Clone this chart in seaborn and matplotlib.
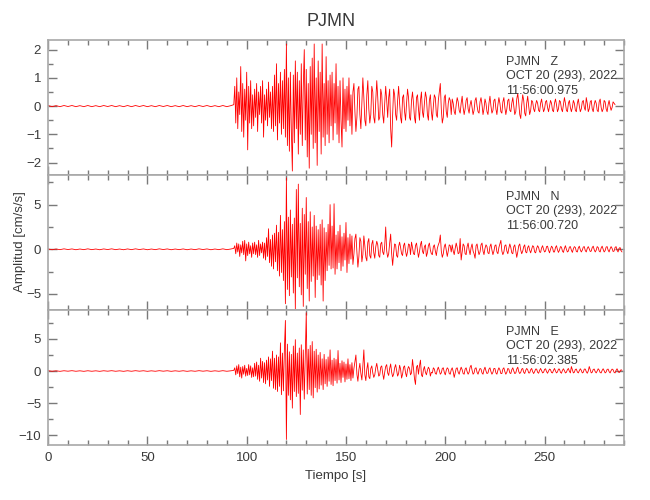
import numpy as np
import pandas as pd
import matplotlib
matplotlib.use("Agg")
import matplotlib.pyplot as plt
import seaborn as sns
from matplotlib.ticker import MultipleLocator

# ---------------- data ----------------
station = "PJMN"
components = ["Z", "N", "E"]
date_text = "OCT 20 (293), 2022"
start_times = ["11:56:00.975", "11:56:00.720", "11:56:02.385"]
x_ticks = [0, 50, 100, 150, 200, 250]

# pre-event noise, one value every 2 s from t = 0
pre_dt = 2.0
z_pre = [0.02, -0.02, 0.015, -0.02, 0.02, -0.015, 0.02, -0.02, 0.015, -0.02, 0.02, -0.02,
         0.015, -0.02, 0.02, -0.015, 0.02, -0.02, 0.015, -0.02, 0.02, -0.02, 0.02, -0.015,
         0.02, -0.02, 0.015, -0.02, 0.02, -0.015, 0.02, -0.02, 0.015, -0.02, 0.02, -0.02,
         0.015, -0.02, 0.02, -0.015, 0.02, -0.02, 0.015, -0.02, 0.02, -0.02, 0.015]
n_pre = [0.04, -0.05, 0.03, -0.04, 0.05, -0.03, 0.04, -0.05, 0.03, -0.04, 0.05, -0.04,
         0.03, -0.05, 0.04, -0.03, 0.05, -0.04, 0.03, -0.05, 0.04, -0.04, 0.05, -0.03,
         0.04, -0.05, 0.03, -0.04, 0.05, -0.03, 0.04, -0.05, 0.03, -0.04, 0.04, -0.05,
         0.03, -0.04, 0.05, -0.03, 0.04, -0.05, 0.03, -0.04, 0.05, -0.04, 0.03]
e_pre = [0.05, -0.04, 0.03, -0.05, 0.04, -0.03, 0.05, -0.04, 0.03, -0.05, 0.04, -0.04,
         0.03, -0.05, 0.04, -0.03, 0.05, -0.04, 0.03, -0.05, 0.04, -0.04, 0.05, -0.03,
         0.04, -0.05, 0.03, -0.04, 0.05, -0.03, 0.04, -0.05, 0.03, -0.04, 0.04, -0.05,
         0.03, -0.04, 0.05, -0.03, 0.04, -0.05, 0.03, -0.04, 0.05, -0.04, 0.03]

# signal, one value every 0.5 s from t = 93.5 s
sig_t0 = 93.5
sig_dt = 0.5
z_sig = [
    0.05, 0.7, -0.6, 1.0, -0.8, 0.5, -0.3, 1.4, -0.9, 0.8, -1.1, 0.6, -0.5, 1.2, -1.55, 0.7, -0.6, 0.9, -0.8, 0.4,
    -0.7, 0.6, -0.4, 0.8, -0.9, 0.5, -0.3, 0.7, -0.6, 0.9, -1.1, 0.4, -0.5, 0.6, -0.7, 0.85, -0.4, 0.5, -0.8, 0.7,
    -0.9, 1.1, -0.7, 1.5, -1.2, 0.8, -0.6, 1.2, -1.0, 0.9, -0.8, 1.3, -1.1, 2.2, -1.4, 1.0, -1.6, 1.2, -0.9, -2.3,
    1.1, -1.3, 1.6, -0.8, 1.2, -1.7, 0.9, -1.0, 1.5, -1.4, 0.7, 2.0, -1.2, 1.3, -1.8, 0.8, -2.2, 1.4, -1.0, 1.7,
    -1.5, 2.2, -1.3, 1.0, -2.1, 1.6, -0.9, 1.2, -1.7, 2.2, -1.1, 0.8, -1.4, 1.75, -1.0, 0.9, -1.3, 1.1, -0.7, 1.2,
    -1.2, 0.8, -0.6, 1.5, -1.0, 0.7, -1.3, 0.9, -0.5, -1.45, 1.0, -0.8, 0.6, -0.9, 0.7, -0.5, 1.0, -0.7, 0.4, -1.0,
    0.5, 0.8, -0.2, -0.9, -0.4, 0.6, 0.7, -0.3, -0.8, 0.1, 1.0, 0.3, -0.5, -0.7, 0.4, 0.9, -0.1, -0.6, -0.3, 0.7,
    0.5, -0.4, -0.6, 0.2, 0.9, 0.3, -0.5, -0.4, 0.6, 0.4, -0.3, -0.6, 0.1, 0.7, 0.2, -0.4, 0.3, 0.6, -0.8, -1.45,
    -0.3, 0.6, 0.4, -0.3, -0.5, 0.2, 0.7, 0.1, -0.4, -0.6, 0.3, 0.4, -0.2, -0.5, 0.1, 0.6, 0.3, -0.4, -0.5, 0.2,
    0.5, 0.1, -0.4, -0.6, 0.3, 0.4, -0.1, -0.5, 0.2, 0.5, -0.2, -0.4, 0.1, 0.5, 0.3, -0.3, -0.5, 0.2, 0.4, -0.2,
    -0.5, 0.0, 0.4, 0.3, -0.3, -0.4, 0.2, 0.5, 0.8, -0.1, -0.6, -0.4, 0.3, 0.4, -0.2, -0.4, 0.1, 0.3, 0.2, -0.3,
    0.25, 0.1, -0.2, -0.3, 0.05, 0.3, 0.15, -0.15, -0.25, 0.1, 0.35, -0.05, -0.3, -0.1, 0.2, 0.3, -0.1, -0.25, 0.05, 0.2,
    -0.05, -0.3, -0.15, 0.2, 0.3, 0.0, -0.2, -0.25, 0.15, 0.3, 0.05, -0.3, -0.1, 0.25, 0.1, -0.2, -0.3, 0.1, 0.35, 0.0,
    -0.25, -0.15, 0.2, 0.25, -0.1, -0.3, 0.05, 0.3, 0.1, -0.2, -0.25, 0.15, 0.3, -0.05, -0.3, -0.1, 0.2, 0.25, -0.15, -0.2,
    0.1, 0.3, 0.0, -0.3, -0.2, 0.25, 0.45, 0.1, -0.3, -0.44, 0.05, 0.4, 0.2, -0.25, -0.35, 0.1, 0.35, 0.0, -0.3, -0.15,
    0.2, 0.15, -0.1, -0.2, 0.05, 0.2, 0.1, -0.15, -0.2, 0.1, 0.25, 0.0, -0.2, -0.1, 0.15, 0.2, -0.05, -0.2, 0.0, 0.2,
    0.1, -0.15, -0.2, 0.1, 0.25, 0.05, -0.2, -0.1, 0.2, 0.15, -0.1, -0.2, 0.05, 0.3, 0.1, -0.15, -0.2, 0.1, 0.2, -0.05,
    -0.2, -0.05, 0.2, 0.1, -0.15, -0.2, 0.1, 0.25, 0.0, -0.2, -0.1, 0.15, 0.2, -0.05, -0.15, 0.3, 0.1, -0.2, -0.1, 0.15,
    0.2, -0.1, -0.2, 0.05, 0.2, 0.1, -0.15, -0.2, 0.15, 0.25, -0.05, -0.2, -0.1, 0.2, 0.15, -0.1, -0.2, 0.05, 0.2, 0.0,
    -0.15, -0.05, 0.15, 0.1, 0.05,
]
n_sig = [
    0.1, 0.4, -0.5, 0.7, -0.3, 0.6, -0.8, 0.5, -0.4, 0.9, -0.6, 1.0, -1.3, 0.6, -0.7, 0.8, -0.5, 0.4, -0.9, 0.7,
    -0.5, 0.8, -0.6, 0.5, -0.9, 1.0, -0.7, 0.6, -0.4, 0.8, -1.0, 0.7, -1.2, 1.3, -0.8, 2.3, -1.5, 1.1, -1.9, 1.6,
    -2.2, 1.8, -1.4, 2.7, -2.4, 1.9, -3.0, 3.8, -2.6, 2.2, -3.5, 3.1, -6.1, 8.0, -4.5, 3.6, -5.2, 4.4, -3.1, 2.8,
    -4.9, 3.5, -6.7, 6.7, -3.2, 7.3, -4.2, 2.9, -5.1, 4.6, -6.4, 3.9, -2.8, 5.8, -4.4, 3.1, -5.8, 4.2, -3.6, 2.5,
    -3.0, 3.8, -5.4, 2.6, -3.4, 2.2, -2.9, 2.8, -4.0, 3.3, -5.8, 2.4, -3.5, 1.9, -2.4, 2.8, -1.8, 5.0, -2.2, 2.6,
    -2.1, 5.1, -2.8, 1.6, -2.2, 2.0, -1.5, 2.7, -2.4, 1.4, -1.9, 1.8, -1.2, 3.0, -2.6, 1.3, -1.6, 1.7, -1.1, 1.5,
    -1.7, -0.5, 1.2, 1.7, -0.3, -2.0, -0.8, 1.3, 0.9, -1.4, -0.6, 1.5, 0.4, -0.9, -1.3, 0.8, 1.2, -0.7, -1.0, 0.6,
    1.0, -0.4, -1.0, 0.3, 0.9, 0.5, -0.7, -0.9, 0.6, 0.8, -0.3, -0.6, 0.4, 2.5, -0.2, -0.9, -0.5, 0.7, 1.7, -0.5,
    -1.8, -0.4, 0.6, 0.5, -0.7, -0.9, 0.3, 0.8, 0.2, -0.5, -0.7, 0.4, 0.7, -0.2, -0.8, -0.3, 0.6, 0.5, -0.6, 0.8,
    0.2, -0.5, -0.6, 0.4, 0.7, -0.1, -0.9, -0.3, 0.5, 0.9, -0.2, -0.5, 0.3, 0.5, -0.8, -0.4, 0.4, 0.7, -0.1, -0.5,
    -0.6, 0.3, 0.5, -0.2, -0.7, 0.1, 0.5, 0.8, 1.6, -0.2, -0.9, -0.5, 0.3, 0.6, -0.1, -0.8, -0.2, 0.5, 0.4, -0.3,
    0.5, -0.2, -0.6, 0.1, 0.7, 0.2, -0.5, -0.4, 1.2, -1.2, -0.3, 0.6, 0.4, -0.5, -0.6, 0.3, 0.7, -0.1, -0.6, 0.2,
    0.6, -0.2, -0.5, -1.0, 0.4, 0.6, -0.1, -0.6, -0.3, 0.5, 0.7, -0.2, -0.6, 0.1, 0.5, 0.3, -0.4, -0.5, 0.3, 0.6,
    -0.1, -0.6, -0.2, 0.4, 0.5, -0.3, -0.5, 0.2, 0.6, 1.0, -0.2, -0.6, -0.3, 0.4, 0.5, -0.2, -0.5, 0.1, 0.6, 0.2,
    -0.4, -0.5, 0.3, 0.5, -0.2, -0.9, -0.3, 0.4, 0.6, -0.1, -0.5, -0.2, 0.3, 0.5, -0.3, -0.4, 0.2, 0.4, -0.1, -0.4,
    0.0, 0.4, 0.3, -0.3, -0.4, 0.1, 0.4, 0.2, -0.3, -0.35, 0.15, 0.4, 0.0, -0.3, -0.2, 0.3, 0.35, -0.1, -0.4, 0.0,
    0.35, 0.2, -0.3, -0.3, 0.2, 0.4, -0.05, -0.35, -0.1, 0.3, 0.25, -0.2, -0.35, 0.1, 0.4, 0.0, -0.3, -0.2, 0.25, 0.3,
    -0.1, -0.35, 0.05, 0.3, 0.2, -0.25, -0.3, 0.15, 0.35, -0.05, -0.3, -0.1, 0.25, 0.3, -0.15, -0.3, 0.1, 0.3, 0.05, -0.25,
    -0.2, 0.2, 0.35, -0.05, -0.3, -0.1, 0.3, 0.2, -0.2, -0.3, 0.15, 0.35, 0.0, -0.3, -0.15, 0.25, 0.3, -0.1, -0.3, 0.05,
    0.3, 0.1, -0.25, -0.2, 0.2, 0.3, -0.1, -0.3, 0.1, 0.2, -0.15, -0.3,
]
e_sig = [
    0.1, 0.5, -0.6, 0.8, -0.4, 1.0, -0.9, 0.6, -1.1, 0.7, -0.5, 0.9, -0.8, 0.4, -0.7, 1.0, -0.6, 0.8, -1.0, 0.5,
    -0.9, 1.2, -0.8, 1.4, -1.3, 0.9, -1.6, 2.0, -1.1, 1.5, -1.8, 1.3, -2.0, 1.7, -1.4, 2.2, -2.4, 1.9, -1.5, 3.1,
    -2.7, 2.0, -2.9, 2.5, -3.2, 2.2, -2.4, 4.4, -3.7, 2.8, -3.1, 3.5, 7.9, -10.7, 4.2, -3.8, 3.0, -4.5, 2.6, -5.8,
    3.9, -3.2, 4.9, -4.0, 2.8, -3.5, 3.6, -6.8, 4.1, -3.0, 3.3, -4.4, 2.7, 9.1, -3.6, 3.4, -2.9, 4.0, -3.8, 4.6,
    -4.2, 3.1, -2.6, 3.4, -3.3, 2.5, -2.8, 2.9, -2.2, 1.9, -2.9, 2.6, -2.0, 1.8, -2.4, 2.2, -1.6, 3.3, -2.1, 1.7,
    -2.3, 2.0, -1.5, 1.8, -1.9, 3.2, -1.4, 1.2, -1.8, 1.6, -1.0, 1.4, -1.7, 1.1, -1.3, 1.9, -1.2, 1.0, -1.5, 1.3,
    -1.1, 0.4, 1.4, 2.5, -0.5, -1.6, 0.2, 1.2, -0.4, -1.4, 0.8, 3.3, -0.6, -1.5, 0.3, 1.3, -0.9, -1.2, 0.4, 0.8,
    -0.3, -1.0, -0.6, 0.5, 1.2, 0.2, -0.8, -0.6, 0.6, 0.8, -0.4, -1.3, -0.2, 0.7, 1.0, -0.3, -0.7, 0.4, 1.1, -0.2,
    -0.9, -0.5, 0.5, 1.0, 0.1, -0.8, -0.4, 0.9, 0.3, -1.1, -0.5, 0.6, 0.8, -0.3, -0.9, 0.2, 0.7, 0.4, -0.6, -0.3,
    1.8, 0.4, -1.2, -2.1, 0.6, 0.9, -0.5, 0.8, 1.7, -0.6, -0.9, 0.2, 0.7, -0.2, -0.6, 0.1, 0.6, 0.3, -0.8, -0.2,
    -0.3, 0.5, 0.3, -0.4, -0.5, 0.2, 0.6, 0.1, -0.5, -0.3, 0.4, 0.5, -0.2, -0.6, 0.1, 0.5, 0.3, -0.4, -0.5, 0.2,
    0.5, -0.1, -1.0, -0.3, 0.4, 0.5, -0.2, -0.5, 0.1, 0.6, 0.2, -0.4, -0.5, 0.3, 0.5, -0.1, -0.5, -0.2, 0.6, 0.9,
    0.1, -0.5, -0.3, 0.4, 0.5, -0.2, -0.5, 0.0, 0.4, 0.3, -0.3, -0.5, 0.2, 0.6, 0.0, -0.4, -0.3, 0.3, 0.5, -0.1,
    -0.5, -0.2, 0.4, 0.4, -0.3, -0.5, 0.1, 0.5, 0.2, -0.4, -0.4, 0.3, 0.5, -0.1, -0.5, -0.2, 0.4, 0.3, -0.3, -0.4,
    0.2, 0.5, 0.0, -0.4, -0.3, 0.3, 0.6, -0.1, -0.4, -0.2, 0.3, 0.4, -0.2, -0.4, 0.1, 0.4, 0.2, -0.3, -0.3, 0.2,
    0.4, -0.1, -0.4, -0.1, 0.3, 0.3, -0.2, -0.35, 0.1, 0.4, 0.05, -0.3, -0.2, 0.25, 0.35, -0.1, -0.35, 0.0, 0.3, 0.2,
    -0.25, -0.3, 0.1, 0.4, 0.0, -0.3, -0.15, 0.3, 0.3, -0.2, -0.35, 0.1, 0.35, 0.05, -0.3, -0.2, 0.2, 0.4, -0.05, -0.3,
    0.7, 0.2, -0.3, -0.2, 0.25, 0.3, -0.15, -0.3, 0.05, 0.35, 0.1, -0.3, -0.2, 0.3, 0.3, -0.1, -0.35, 0.0, 0.7, 0.2,
    -0.3, -0.2, 0.25, 0.3, -0.1, -0.3, 0.0, 0.35, 0.15, -0.25, -0.3, 0.1, 0.35, 0.05, -0.3, -0.15, 0.25, 0.3, -0.1, -0.3,
    0.05, 0.3, 0.2, -0.2, -0.3, 0.1, 0.35, 0.0, -0.25, -0.1, 0.2, 0.1,
]

pre_series = [z_pre, n_pre, e_pre]
sig_series = [z_sig, n_sig, e_sig]
y_limits = [(-2.44, 2.34), (-6.8, 8.32), (-11.56, 9.53)]
y_major = [1, 5, 5]
y_minor = [0.5, 2.5, 2.5]

# ---------------- styling ----------------
sns.set_style("ticks")
plt.rcParams["font.family"] = ["Liberation Sans", "DejaVu Sans"]
frame_col = "#a8a8a8"
tick_col = "#7a7a7a"
text_col = "#3a3a3a"
fs = 9.5

fig = plt.figure(figsize=(6.5, 5.0), dpi=100)
bottoms = [0.65, 0.38, 0.11]
axes = []
for i in range(3):
    ax = fig.add_axes([0.074, bottoms[i], 0.886, 0.27])
    axes.append(ax)
    pre = np.asarray(pre_series[i], dtype=float)
    sig = np.asarray(sig_series[i], dtype=float)
    t = np.concatenate([np.arange(len(pre)) * pre_dt,
                        sig_t0 + np.arange(len(sig)) * sig_dt])
    a = np.concatenate([pre, sig])
    df = pd.DataFrame({"t": t, "a": a})
    sns.lineplot(data=df, x="t", y="a", ax=ax, color="#ff0000", lw=0.6,
                 estimator=None, sort=False)
    ax.set_xlim(0, 290)
    ax.set_ylim(*y_limits[i])
    ax.xaxis.set_major_locator(MultipleLocator(50))
    ax.xaxis.set_minor_locator(MultipleLocator(10))
    ax.yaxis.set_major_locator(MultipleLocator(y_major[i]))
    ax.yaxis.set_minor_locator(MultipleLocator(y_minor[i]))
    ax.tick_params(which="both", direction="in", top=True, right=True,
                   color=tick_col, labelcolor=text_col, labelsize=fs, width=1.0)
    ax.tick_params(which="major", length=6.5, pad=5)
    ax.tick_params(which="minor", length=3.5)
    for s in ax.spines.values():
        s.set_color(frame_col)
        s.set_linewidth(1.2)
    ax.set_xlabel("")
    ax.set_ylabel("")
    if i < 2:
        ax.set_xticklabels([])
    ax.text(0.795, 0.84, f"{station}   {components[i]}", transform=ax.transAxes,
            fontsize=9, color=text_col, va="center", ha="left")
    ax.text(0.795, 0.73, date_text, transform=ax.transAxes,
            fontsize=9, color=text_col, va="center", ha="left")
    ax.text(0.795, 0.625, start_times[i], transform=ax.transAxes,
            fontsize=9, color=text_col, va="center", ha="left")

axes[2].set_xticks(x_ticks)
axes[2].set_xlabel("Tiempo [s]", fontsize=fs, color=text_col, labelpad=4)
fig.text(0.031, 0.517, "Amplitud [cm/s/s]", rotation=90, fontsize=fs,
         color=text_col, ha="center", va="center")
fig.text(0.51, 0.956, station, fontsize=13, color=text_col, ha="center", va="center")

fig.savefig("out.png", dpi=100)
